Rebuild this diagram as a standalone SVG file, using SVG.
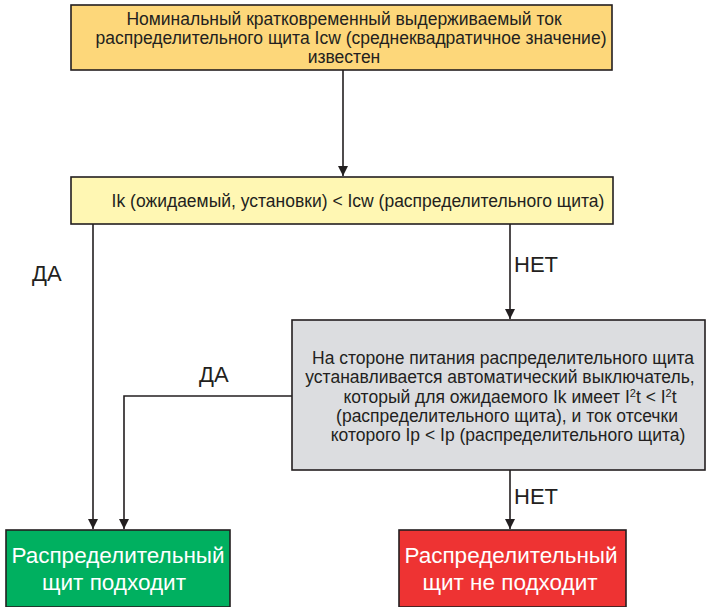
<svg xmlns="http://www.w3.org/2000/svg" width="707" height="607" viewBox="0 0 707 607">
<defs>
<marker id="arr" viewBox="0 0 10 10" refX="10" refY="5" markerWidth="10" markerHeight="10" markerUnits="userSpaceOnUse" orient="auto">
<path d="M0,0 L10,5 L0,10 z" fill="#231f20"/>
</marker>
<style>
.box{stroke:#231f20;stroke-width:1.6}
.t{font-family:"Liberation Sans",Arial,sans-serif;font-size:17.5px;fill:#231f20;text-anchor:middle}
.lbl{font-family:"Liberation Sans",Arial,sans-serif;font-size:22px;fill:#231f20}
.w{font-family:"Liberation Sans",Arial,sans-serif;font-size:22.5px;fill:#ffffff;text-anchor:middle}
.c{fill:none;stroke:#231f20;stroke-width:1.6}
</style>
</defs>
<g id="connectors">
<path class="c" d="M343,70 V176" marker-end="url(#arr)"/>
<path class="c" d="M93,224 V529" marker-end="url(#arr)"/>
<path class="c" d="M510,224 V319" marker-end="url(#arr)"/>
<path class="c" d="M292,396 H124 V529" marker-end="url(#arr)"/>
<path class="c" d="M510,470 V529" marker-end="url(#arr)"/>
<text class="lbl" x="32" y="281">ДА</text>
<text class="lbl" x="514" y="272">НЕТ</text>
<text class="lbl" x="199" y="382">ДА</text>
<text class="lbl" x="514" y="504">НЕТ</text>
</g>
<g id="n1">
<rect class="box" x="71" y="5" width="541" height="65" fill="#fdd77a"/>
<text class="t" x="344" y="25">Номинальный кратковременный выдерживаемый ток</text>
<text class="t" x="351" y="44">распределительного щита Icw (среднеквадратичное значение)</text>
<text class="t" x="344" y="63">известен</text>
</g>
<g id="n2">
<rect class="box" x="71" y="177" width="542" height="47" fill="#fff7b3"/>
<text class="t" x="358" y="207">Ik (ожидаемый, установки) &lt; Icw (распределительного щита)</text>
</g>
<g id="n3">
<rect class="box" x="292" y="320" width="413" height="150" fill="#dcdde0"/>
<text class="t" x="503" y="364">На стороне питания распределительного щита</text>
<text class="t" x="500" y="383">устанавливается автоматический выключатель,</text>
<text class="t" x="510" y="403">который для ожидаемого Ik имеет I<tspan baseline-shift="super" font-size="11">2</tspan>t &lt; I<tspan baseline-shift="super" font-size="11">2</tspan>t</text>
<text class="t" x="507" y="422">(распределительного щита), и ток отсечки</text>
<text class="t" x="508" y="441">которого Ip &lt; Ip (распределительного щита)</text>
</g>
<g id="n4">
<rect class="box" x="6" y="530" width="224" height="77" fill="#00b060"/>
<text class="w" x="118" y="563">Распределительный</text>
<text class="w" x="114" y="590">щит подходит</text>
</g>
<g id="n5">
<rect class="box" x="399" y="530" width="227" height="77" fill="#ee3333"/>
<text class="w" x="511" y="563">Распределительный</text>
<text class="w" x="510" y="590">щит не подходит</text>
</g>
</svg>
